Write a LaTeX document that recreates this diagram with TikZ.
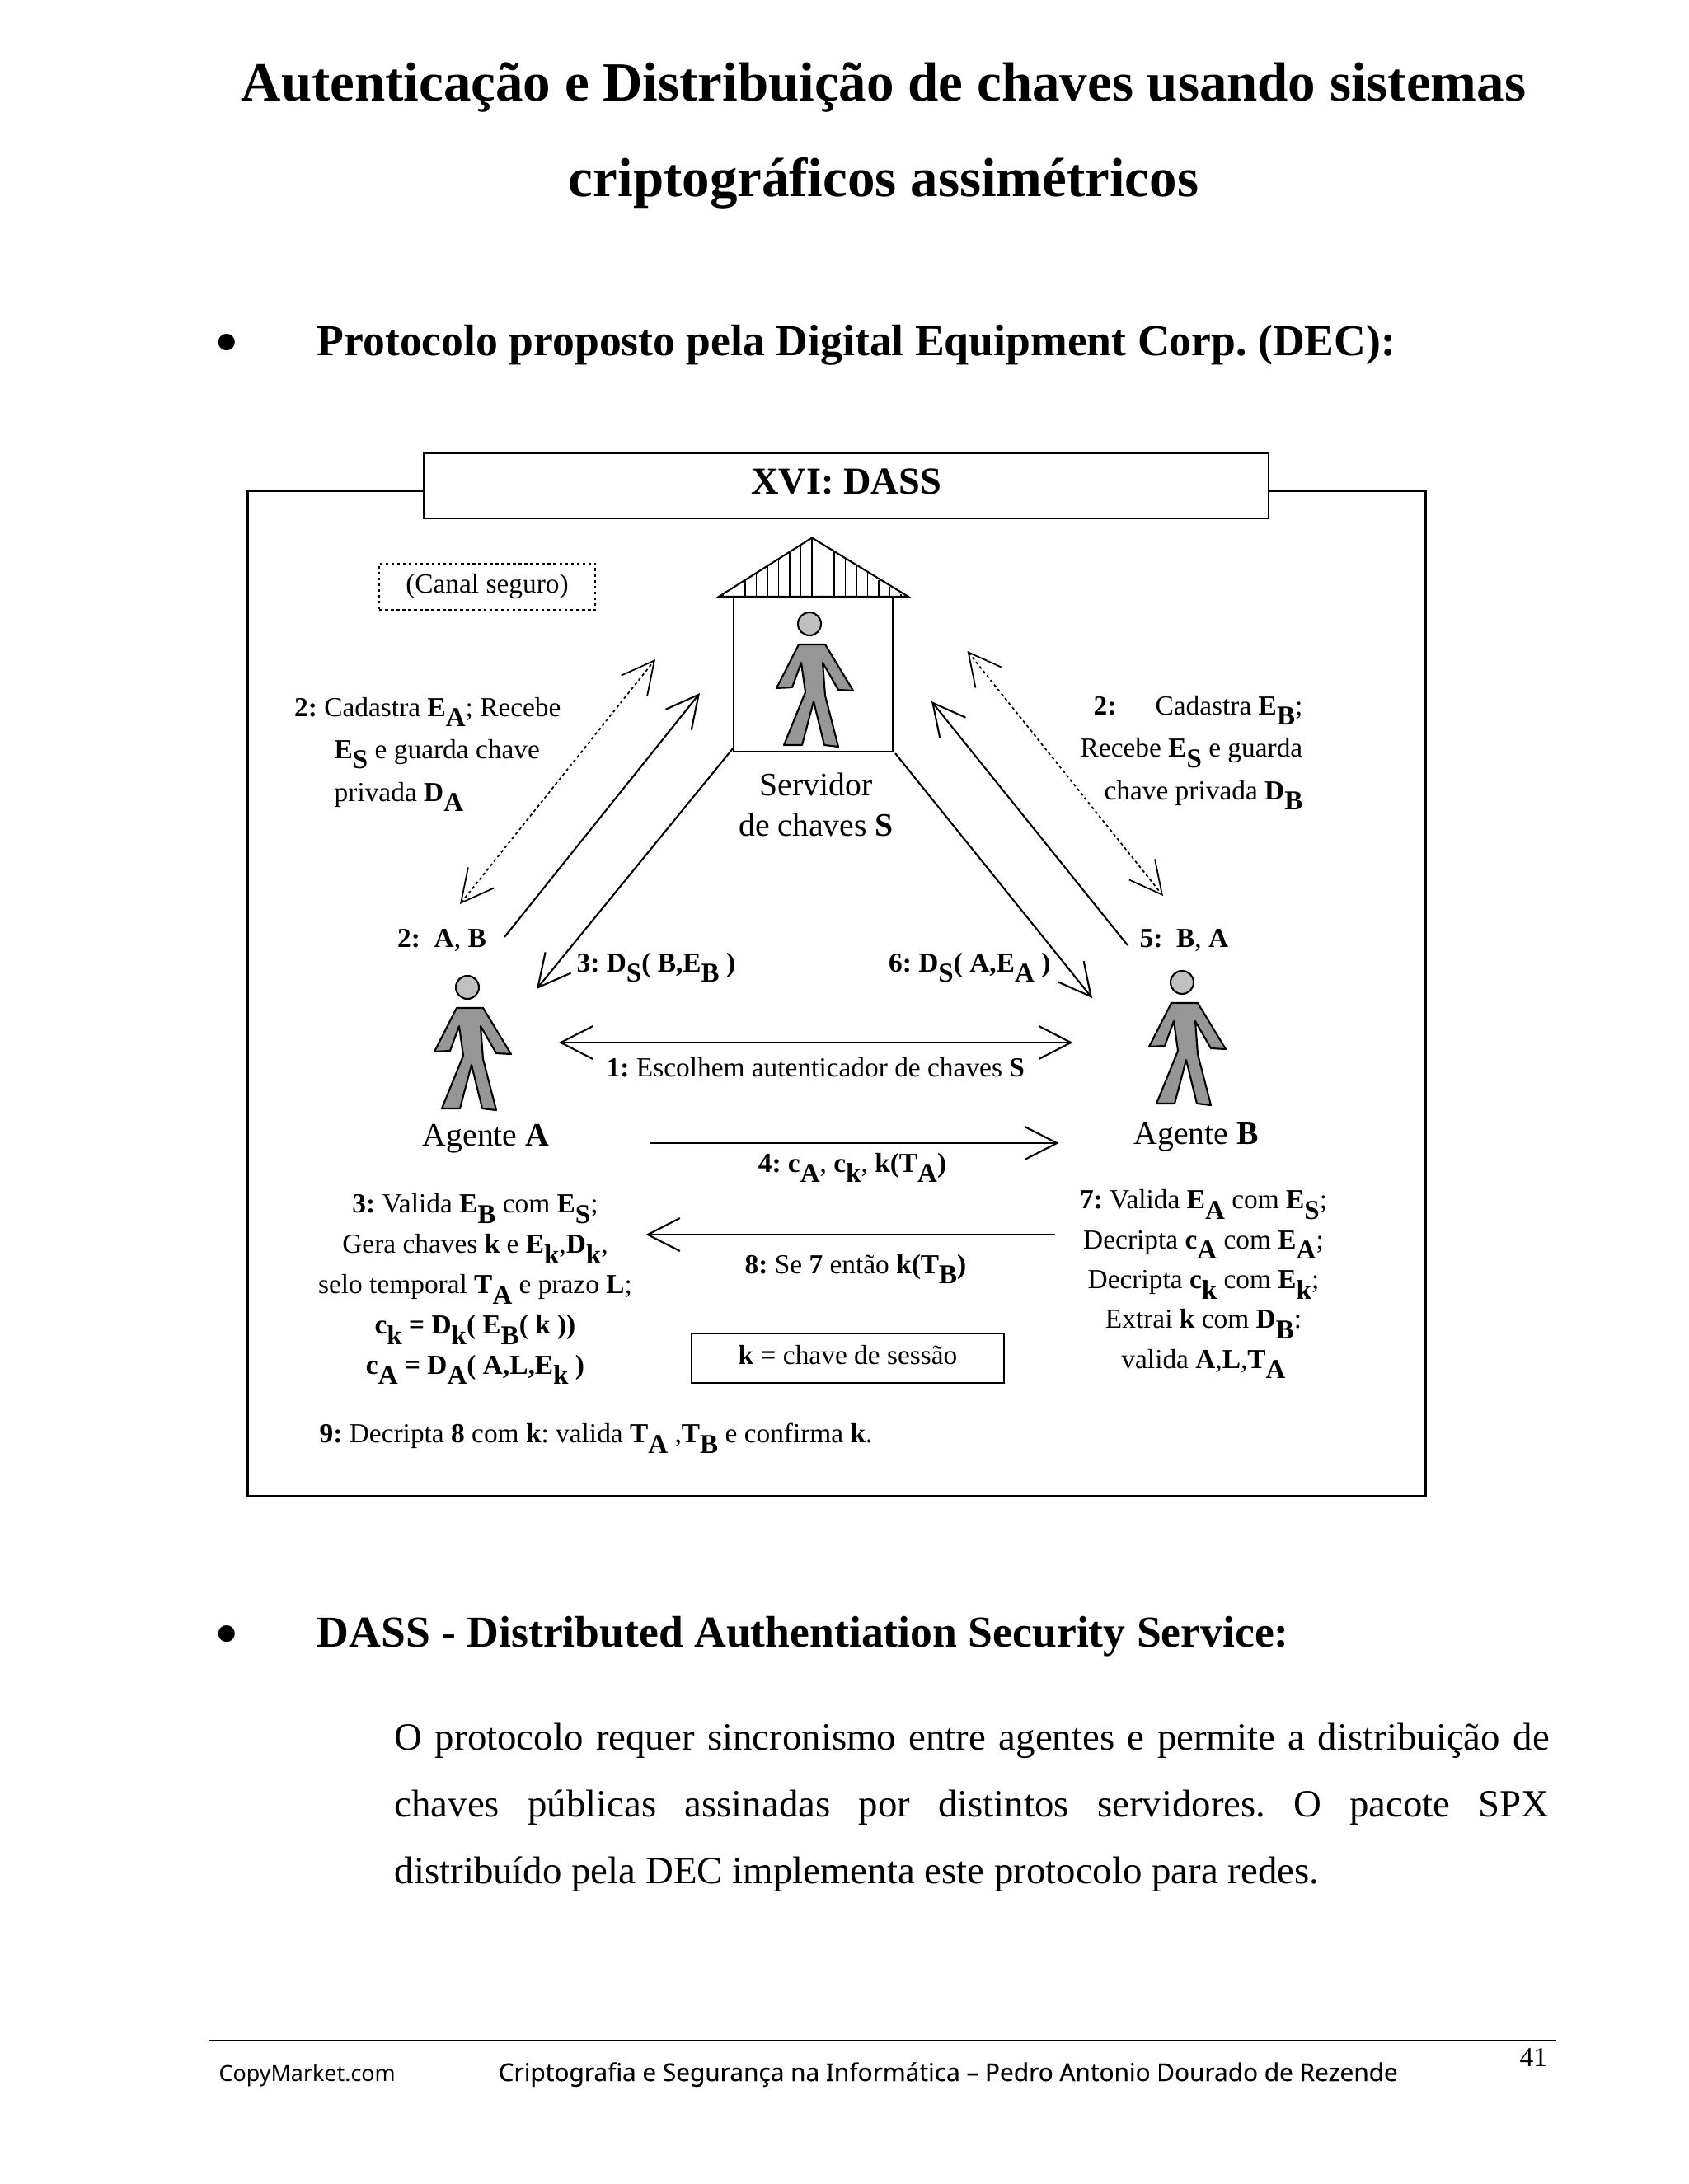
\documentclass[tikz,border=0pt]{standalone}
\usepackage{fontspec}
\setmainfont{Liberation Serif}
\newfontfamily\rodape{Noto Sans}
\newfontfamily\rodapeb[FakeBold=0.25]{Noto Sans}
\usepackage{xcolor}
\usepackage{tikz}
\usetikzlibrary{arrows.meta,positioning,calc}
\definecolor{corpo}{RGB}{150,150,150}
\definecolor{cabeca}{RGB}{192,192,192}
% subscrito em negrito, quase do tamanho do texto
\newcommand{\ind}[1]{\raisebox{-3.6pt}{\fontsize{9.4}{10}\selectfont\bfseries #1}}
\newcommand{\nb}[1]{\textbf{#1}}
\tikzset{
boneco/.pic={
  \draw[line width=0.6pt,fill=cabeca] (0,0) circle (0.14);
  \draw[line width=0.6pt,fill=corpo,line join=round] (-0.13,-0.25) -- (0.19,-0.25) -- (0.53,-0.81) -- (0.35,-0.80)
    -- (0.16,-0.47) -- (0.19,-0.87) -- (0.35,-1.49) -- (0.18,-1.47) -- (0.05,-0.94) -- (-0.09,-1.47)
    -- (-0.31,-1.47) -- (-0.05,-0.83) -- (-0.10,-0.47) -- (-0.21,-0.77) -- (-0.40,-0.78) -- cycle;
}}
\begin{document}
\frenchspacing
\begin{tikzpicture}[
tit/.style={font=\fontsize{19.05}{23}\selectfont\bfseries,inner sep=0pt,anchor=base},
secao/.style={font=\fontsize{15.27}{18}\selectfont\bfseries,inner sep=0pt,anchor=base west},
marca/.style={font=\fontsize{24}{26}\selectfont,inner sep=0pt,anchor=base},
corpotxt/.style={font=\fontsize{13.33}{23.05}\selectfont,inner sep=0pt,anchor=north west,text width=14.01cm,align=justify},
rot/.style={font=\fontsize{9.5}{11}\selectfont,inner sep=0pt,anchor=base west},
rotc/.style={font=\fontsize{9.5}{11}\selectfont,inner sep=0pt,anchor=base},
bloco/.style={font=\fontsize{9.5}{13.9}\selectfont,inner sep=0pt,align=center,anchor=north},
nome/.style={font=\fontsize{11.3}{13.6}\selectfont,inner sep=0pt,anchor=base},
caixa/.style={draw,line width=0.8pt,inner sep=0pt},
seta/.style={-{Straight Barb[length=3.9mm,width=4mm]},line width=0.6pt},
setadupla/.style={{Straight Barb[length=3.9mm,width=4mm]}-{Straight Barb[length=3.9mm,width=4mm]},line width=0.6pt},
canal/.style={{Straight Barb[length=3.9mm,width=4mm]}-{Straight Barb[length=3.9mm,width=4mm]},line width=0.5pt,dash pattern=on 1pt off 1pt}
]
\useasboundingbox (0,0) rectangle (20.48,-26.5);
\fill[white] (0,0) rectangle (20.48,-26.5);

\node[tit] (titulo1) at (10.72,-1.23) {Autenticação e Distribuição de chaves usando sistemas};
\node[tit] (titulo2) at (10.72,-2.38) {criptográficos assimétricos};

\node[marca] (bala1) at (2.75,-4.43) {•};
\node[secao] (secao1) at (3.84,-4.31) {Protocolo proposto pela Digital Equipment Corp. (DEC):};

% quadro e faixa do titulo
\node[caixa,minimum width=14.29cm,minimum height=12.19cm] (quadro) at (10.15,-12.055) {};
\node[caixa,fill=white,line width=0.7pt,minimum width=10.25cm,minimum height=0.79cm,text depth=1.1mm,
  font=\fontsize{13.2}{16}\selectfont\bfseries] (faixa) at (10.265,-5.895) {XVI: DASS};
\node[draw,line width=0.7pt,dash pattern=on 1pt off 1pt,inner sep=0pt,minimum width=2.62cm,minimum height=0.565cm,
  font=\fontsize{9.5}{11}\selectfont] (seguro) at (5.91,-7.12) {(Canal seguro)};

% servidor
\node[draw,line width=0.6pt,inner sep=0pt,minimum width=1.93cm,minimum height=1.88cm] (casa) at (9.865,-8.18) {};
\foreach \i in {-8,...,8} {
  \pgfmathsetmacro\xr{9.85+\i*0.135}
  \pgfmathsetmacro\yt{-6.525-0.63*abs(\i*0.135)}
  \draw[line width=0.5pt] (\xr,\yt) -- (\xr,-7.24);
}
\draw[line width=0.6pt] (8.72,-7.24) -- (9.85,-6.525) -- (11.02,-7.24) -- cycle;
\pic at (9.82,-7.57) {boneco};
\pic at (5.67,-11.98) {boneco};
\pic at (14.34,-11.92) {boneco};

\node[nome,align=center,anchor=north] (servidor) at (9.90,-9.37) {Servidor\\[0.3pt]de chaves \nb{S}};
\node[nome] (agenteA) at (5.895,-13.90) {Agente \nb{A}};
\node[nome] (agenteB) at (14.51,-13.88) {Agente \nb{B}};

% pontas das setas
\coordinate (a1) at (5.58,-10.97);
\coordinate (s1) at (7.95,-8.00);
\coordinate (a2) at (6.12,-11.37);
\coordinate (s2) at (8.49,-8.41);
\coordinate (s3) at (8.90,-9.07);
\coordinate (a3) at (6.51,-12.00);
\coordinate (s4) at (11.735,-7.90);
\coordinate (b1) at (14.11,-10.87);
\coordinate (b2) at (13.68,-11.47);
\coordinate (s5) at (11.30,-8.51);
\coordinate (s6) at (10.86,-9.14);
\coordinate (b3) at (13.25,-12.11);
\coordinate (e1) at (6.78,-12.65);
\coordinate (d1) at (13.015,-12.65);
\coordinate (e4) at (7.89,-13.87);
\coordinate (d4) at (12.845,-13.87);
\coordinate (d8) at (12.80,-14.98);
\coordinate (e8) at (7.835,-14.98);

\draw[canal] (a1) -- (s1);
\draw[seta] (a2) -- (s2);
\draw[seta] (s3) -- (a3);
\draw[canal] (s4) -- (b1);
\draw[seta] (b2) -- (s5);
\draw[seta] (s6) -- (b3);
\draw[setadupla] (e1) -- (d1);
\draw[seta] (e4) -- (d4);
\draw[seta] (d8) -- (e8);

\node[rot] (l2a) at (3.565,-8.69) {\nb{2:} Cadastra \nb{E}\ind{A}; Recebe};
\node[rot] (l2b) at (4.05,-9.20) {\nb{E}\ind{S} e guarda chave};
\node[rot] (l2c) at (4.05,-9.72) {privada \nb{D}\ind{A}};
\node[rot] (r2a) at (13.26,-8.67) {\nb{2:}};
\node[rot,anchor=base east] (r2b) at (15.81,-8.67) {Cadastra \nb{E}\ind{B};};
\node[rot,anchor=base east] (r2c) at (15.81,-9.185) {Recebe \nb{E}\ind{S} e guarda};
\node[rot,anchor=base east] (r2d) at (15.81,-9.70) {chave privada \nb{D}\ind{B}};

\node[rot] (m2) at (4.815,-11.49) {\nb{2:\ \ A}, \nb{B}};
\node[rot] (m5) at (13.82,-11.49) {\nb{5:\ \ B}, \nb{A}};
\node[rot] (m3) at (6.99,-11.79) {\nb{3: D}\ind{S}\nb{( B,E}\ind{B}\nb{ )}};
\node[rot] (m6) at (10.775,-11.79) {\nb{6: D}\ind{S}\nb{( A,E}\ind{A}\nb{ )}};
\node[rot] (m1) at (7.35,-13.06) {\nb{1:} Escolhem autenticador de chaves \nb{S}};
\node[rotc] (m4) at (10.34,-14.22) {\nb{4: c}\ind{A}, \nb{c}\ind{k}, \nb{k(T}\ind{A}\nb{)}};
\node[rotc] (m8) at (10.38,-15.45) {\nb{8:} Se \nb{7} então \nb{k(T}\ind{B}\nb{)}};

\node[bloco] (passo3) at (5.765,-14.48) {\nb{3:} Valida \nb{E}\ind{B} com \nb{E}\ind{S};\\
  Gera chaves \nb{k} e \nb{E}\ind{k},\nb{D}\ind{k},\\
  selo temporal \nb{T}\ind{A} e prazo \nb{L};\\
  \nb{c}\ind{k} \nb{= D}\ind{k}\nb{( E}\ind{B}\nb{( k ))}\\
  \nb{c}\ind{A} \nb{= D}\ind{A}\nb{( A,L,E}\ind{k}\nb{ )}};
\node[bloco,font=\fontsize{9.5}{13.75}\selectfont] (passo7) at (14.60,-14.43) {\nb{7:} Valida \nb{E}\ind{A} com \nb{E}\ind{S};\\
  Decripta \nb{c}\ind{A} com \nb{E}\ind{A};\\
  Decripta \nb{c}\ind{k} com \nb{E}\ind{k};\\
  Extrai \nb{k} com \nb{D}\ind{B}:\\
  valida \nb{A},\nb{L},\nb{T}\ind{A}};
\node[draw,line width=0.7pt,inner sep=0pt,minimum width=3.79cm,minimum height=0.60cm,text depth=0.9mm,
  font=\fontsize{9.5}{11}\selectfont] (sessao) at (10.285,-16.48) {\nb{k =} chave de sessão};
\node[rot] (passo9) at (3.87,-17.505) {\nb{9:} Decripta \nb{8} com \nb{k}: valida \nb{T}\ind{A} ,\nb{T}\ind{B} e confirma \nb{k}.};

\node[marca] (bala2) at (2.75,-20.10) {•};
\node[secao] (secao2) at (3.84,-19.98) {DASS - Distributed Authentiation Security Service:};
\node[corpotxt] (texto) at (4.78,-20.90) {O protocolo requer sincronismo entre agentes e permite a distribuição de\linebreak chaves públicas assinadas por distintos servidores. O pacote SPX\linebreak distribuído pela DEC implementa este protocolo para redes.};

% rodape
\draw[line width=0.6pt] (2.53,-24.76) coordinate (r1) -- (18.88,-24.76) coordinate (r2);
\node[font=\fontsize{7.64}{10}\selectfont\rodape,inner sep=0pt,anchor=base west] (copy) at (2.65,-25.25) {CopyMarket.com};
\node[font=\fontsize{8.46}{10}\selectfont\rodapeb,inner sep=0pt,anchor=base west] (livro) at (6.04,-25.25) {Criptografia e Segurança na Informática – Pedro Antonio Dourado de Rezende};
\node[font=\fontsize{9.5}{11}\selectfont,inner sep=0pt,anchor=base west] (pagina) at (18.43,-25.07) {41};
\end{tikzpicture}
\end{document}
